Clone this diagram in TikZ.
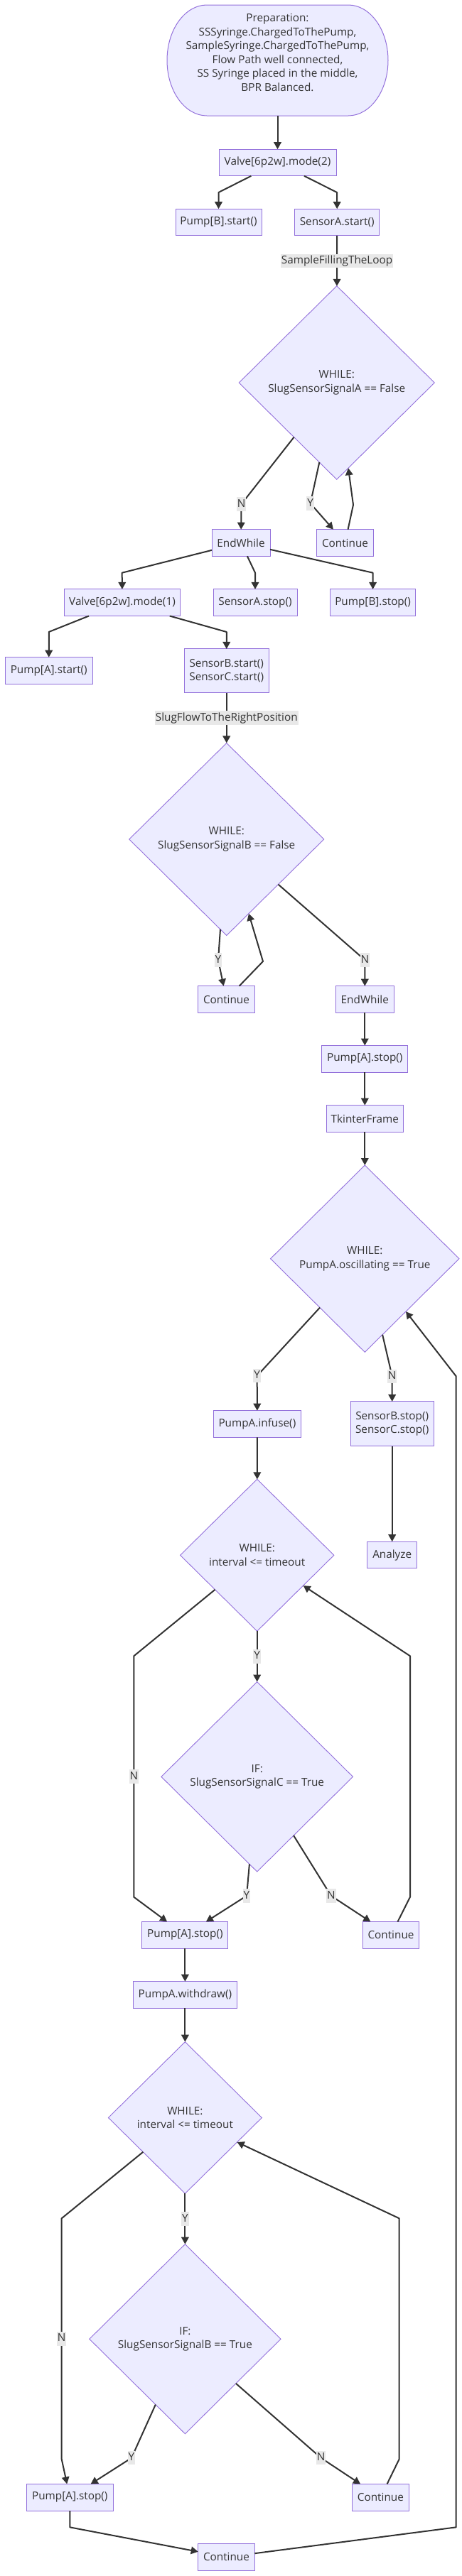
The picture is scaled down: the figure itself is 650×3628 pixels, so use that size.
\documentclass[tikz,border=0pt]{standalone}
\usepackage{fontspec}
\setmainfont{Open Sans}
\usetikzlibrary{arrows.meta,shapes.geometric,calc}
\definecolor{boxfill}{HTML}{ECECFF}
\definecolor{boxline}{HTML}{9370DB}
\definecolor{edgecol}{HTML}{333333}
\definecolor{lblfill}{HTML}{E8E8E8}
\definecolor{txt}{HTML}{333333}
\tikzset{
 fnt/.style={font=\fontsize{15.3}{19.5}\selectfont, text=txt},
 box/.style={fnt, draw=boxline, fill=boxfill, line width=1pt, rectangle, inner sep=0pt, outer sep=0pt, minimum height=37.6pt, align=center},
 dec/.style={fnt, draw=boxline, fill=boxfill, line width=0.9pt, diamond, inner sep=0pt, outer sep=0pt, align=center},
 edge/.style={draw=edgecol, line width=2pt, line join=round, -{Triangle[length=10pt,width=10.5pt]}},
 lbl/.style={fnt, fill=lblfill, inner xsep=1pt, inner ysep=0pt, minimum height=19.5pt, text height=11.5pt, text depth=3.5pt},
}
\begin{document}
\begin{tikzpicture}[x=1pt,y=-1pt]
\useasboundingbox (0,0) rectangle (650,3628);
% preparation (stadium)
\node[rectangle, inner sep=0pt, outer sep=0pt, minimum width=311pt, minimum height=156pt] (prep) at (390.5,85) {};
\filldraw[draw=boxline, fill=boxfill, line width=1pt]
  ($(prep.north west)+(56,0)$) -- ($(prep.north east)+(-56,0)$)
  arc[start angle=-90, end angle=90, x radius=56, y radius=78]
  -- ($(prep.south west)+(56,0)$)
  arc[start angle=90, end angle=270, x radius=56, y radius=78] -- cycle;
\node[fnt, align=center, inner sep=0pt] (preptxt) at (390.5,74) {Preparation:\\SSSyringe.ChargedToThePump,\\SampleSyringe.ChargedToThePump,\\Flow Path well connected,\\SS Syringe placed in the middle,\\BPR Balanced.};

% boxes
\node[box, minimum width=165pt] (v2) at (390.5,229) {Valve[6p2w].mode(2)};
\node[box, minimum width=121pt] (pBs) at (307.5,313) {Pump[B].start()};
\node[box, minimum width=119.5pt] (sAs) at (474.2,313) {SensorA.start()};
\node[dec, minimum width=275pt, minimum height=272.6pt] (wA) at (473.75,539) {WHILE:\\SlugSensorSignalA == False};
\node[box, minimum width=82pt] (ew1) at (339,764.5) {EndWhile};
\node[box, minimum width=79.5pt] (c1) at (485.5,764.5) {Continue};
\node[box, minimum width=163.75pt] (v1) at (172,848.7) {Valve[6p2w].mode(1)};
\node[box, minimum width=118pt] (sAst) at (359,848.7) {SensorA.stop()};
\node[box, minimum width=120pt] (pBst) at (524.6,848.7) {Pump[B].stop()};
\node[box, minimum width=122.5pt] (pAs) at (68.75,944.5) {Pump[A].start()};
\node[box, minimum width=119pt, minimum height=61.7pt] (sBCs) at (318.75,944.8) {SensorB.start()\\SensorC.start()};
\node[dec, minimum width=274pt, minimum height=271pt] (wB) at (318.75,1182) {WHILE:\\SlugSensorSignalB == False};
\node[box, minimum width=79.5pt] (c2) at (318.5,1407.5) {Continue};
\node[box, minimum width=82pt] (ew2) at (513.3,1407.5) {EndWhile};
\node[box, minimum width=121pt] (pAst1) at (513.3,1491.3) {Pump[A].stop()};
\node[box, minimum width=108.5pt] (tk) at (513.3,1575.5) {TkinterFrame};
\node[dec, minimum width=265.4pt, minimum height=263.3pt] (wP) at (513.3,1772.7) {WHILE:\\PumpA.oscillating == True};
\node[box, minimum width=123pt] (pAi) at (361.9,2005.5) {PumpA.infuse()};
\node[box, minimum width=117.4pt, minimum height=62.7pt] (sBCst) at (551.7,2005.3) {SensorB.stop()\\SensorC.stop()};
\node[box, minimum width=70pt] (an) at (551.7,2190) {Analyze};
\node[dec, minimum width=216.3pt, minimum height=214pt] (wT1) at (361.7,2190.3) {WHILE:\\interval <= timeout};
\node[dec, minimum width=269.6pt, minimum height=267.4pt] (ifC) at (361.7,2502.3) {IF:\\SlugSensorSignalC == True};
\node[box, minimum width=121pt] (pAst2) at (260.4,2725.3) {Pump[A].stop()};
\node[box, minimum width=79.5pt] (c3) at (550,2725.3) {Continue};
\node[box, minimum width=145.8pt] (wd) at (260.4,2809.5) {PumpA.withdraw()};
\node[dec, minimum width=216pt, minimum height=213.6pt] (wT2) at (260.4,2982.5) {WHILE:\\interval <= timeout};
\node[dec, minimum width=269.2pt, minimum height=267pt] (ifB) at (260.4,3294.2) {IF:\\SlugSensorSignalB == True};
\node[box, minimum width=121.7pt] (pAst3) at (98.3,3517.2) {Pump[A].stop()};
\node[box, minimum width=79.5pt] (c4) at (535.4,3517.2) {Continue};
\node[box, minimum width=79.5pt] (c5) at (318.5,3601.3) {Continue};

% edges
\draw[edge] (prep.south) -- (v2.north);
\draw[edge] (v2) -- (307.5,271) -- (pBs);
\draw[edge] (v2) -- (474.2,271) -- (sAs);
\draw[edge] (sAs) -- node[lbl]{SampleFillingTheLoop} (wA);
\draw[edge] (wA) -- (339.6,710) node[lbl]{N} -- (ew1);
\draw[edge] (wA) -- (436.7,709) node[lbl]{Y} -- (c1);
\draw[edge] (c1) -- (497,711) -- (wA);
\draw[edge] (ew1) -- (171.7,806.7) -- (v1);
\draw[edge] (ew1) -- (359,806.7) -- (sAst);
\draw[edge] (ew1) -- (524.6,806.7) -- (pBst);
\draw[edge] (v1) -- (68.75,890) -- (pAs);
\draw[edge] (v1) -- (318.75,890) -- (sBCs);
\draw[edge] (sBCs) -- node[lbl]{SlugFlowToTheRightPosition} (wB);
\draw[edge] (wB) -- (307,1352) node[lbl]{Y} -- (c2);
\draw[edge] (c2) -- (370,1354) -- (wB);
\draw[edge] (wB) -- (513.3,1352) node[lbl]{N} -- (ew2);
\draw[edge] (ew2) -- (pAst1);
\draw[edge] (pAst1) -- (tk);
\draw[edge] (tk) -- (wP);
\draw[edge] (wP) -- (361.7,1937.7) node[lbl]{Y} -- (pAi);
\draw[edge] (wP) -- (551.7,1938.3) node[lbl]{N} -- (sBCst);
\draw[edge] (pAi) -- (wT1);
\draw[edge] (sBCst) -- (an);
\draw[edge] (wT1) -- node[lbl]{Y} (ifC);
\draw[edge] (wT1) -- (188.3,2332.3) -- node[lbl]{N} (188.3,2671.7) -- (pAst2);
\draw[edge] (ifC) -- (347,2670) node[lbl]{Y} -- (pAst2);
\draw[edge] (ifC) -- (465.8,2670) node[lbl]{N} -- (c3);
\draw[edge] (c3) -- (577,2671.7) -- (577,2332.3) -- (wT1);
\draw[edge] (pAst2) -- (wd);
\draw[edge] (wd) -- (wT2);
\draw[edge] (wT2) -- (86.7,3124.3) -- node[lbl]{N} (86.7,3463.3) -- (pAst3);
\draw[edge] (wT2) -- node[lbl]{Y} (ifB);
\draw[edge] (ifB) -- (185,3461.7) node[lbl]{Y} -- (pAst3);
\draw[edge] (ifB) -- (451.7,3461.7) node[lbl]{N} -- (c4);
\draw[edge] (c4) -- (561.7,3463.3) -- (561.7,3124.3) -- (wT2);
\draw[edge] (pAst3) -- (98.3,3559.3) -- (c5);
\draw[edge] (c5) -- (641.7,3559.3) -- (641.7,1938.3) -- (wP);
\end{tikzpicture}
\end{document}
